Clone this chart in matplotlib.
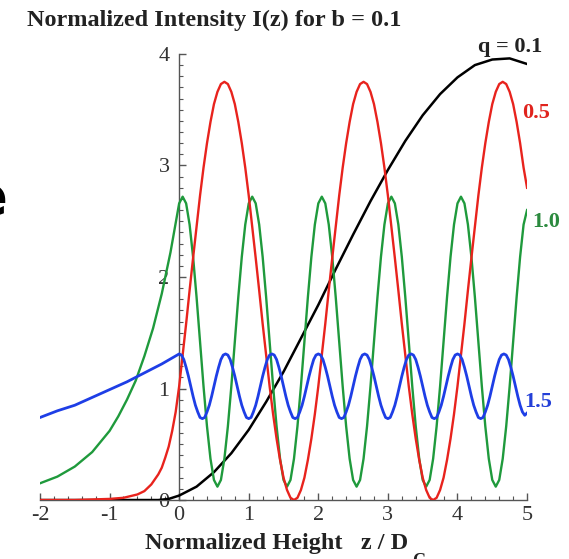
import numpy as np
import matplotlib.pyplot as plt

plt.rcParams['font.family'] = ['Liberation Serif', 'DejaVu Serif']
plt.rcParams['axes.unicode_minus'] = False

# --- values ---
# q = 0.1 (black)
black_z = [-2.0, -1.0, -0.6, -0.3, -0.15, 0.0, 0.25, 0.5, 0.75, 1.0, 1.25, 1.5, 1.75,
           2.0, 2.25, 2.5, 2.75, 3.0, 3.25, 3.5, 3.75, 4.0, 4.25, 4.5, 4.75, 5.0]
black_I = [0.0, 0.0, 0.0, 0.0, 0.01, 0.04, 0.12, 0.25, 0.42, 0.63, 0.88, 1.15, 1.45,
           1.75, 2.07, 2.38, 2.68, 2.96, 3.22, 3.45, 3.64, 3.79, 3.90, 3.95, 3.96, 3.91]

# q = 0.5 (red): z < 0 part, then z = 0..5 every 0.05
red_neg_z = [-2.0, -1.5, -1.0, -0.8, -0.6, -0.5, -0.4, -0.3, -0.25, -0.2, -0.15, -0.1, -0.05]
red_neg_I = [0.0, 0.0, 0.01, 0.02, 0.05, 0.08, 0.14, 0.23, 0.29, 0.38, 0.48, 0.62, 0.79]
red_pos_I = [1.02, 1.30, 1.58, 1.88, 2.17, 2.45, 2.73, 2.98, 3.20, 3.39,
             3.55, 3.66, 3.73, 3.75, 3.73, 3.66, 3.55, 3.39, 3.20, 2.98,
             2.73, 2.45, 2.17, 1.88, 1.58, 1.30, 1.02, 0.77, 0.55, 0.36,
             0.20, 0.09, 0.02, 0.00, 0.02, 0.09, 0.20, 0.36, 0.55, 0.77,
             1.02, 1.30, 1.58, 1.88, 2.17, 2.45, 2.73, 2.98, 3.20, 3.39,
             3.55, 3.66, 3.73, 3.75, 3.73, 3.66, 3.55, 3.39, 3.20, 2.98,
             2.73, 2.45, 2.17, 1.88, 1.58, 1.30, 1.02, 0.77, 0.55, 0.36,
             0.20, 0.09, 0.02, 0.00, 0.02, 0.09, 0.20, 0.36, 0.55, 0.77,
             1.02, 1.30, 1.58, 1.88, 2.17, 2.45, 2.73, 2.98, 3.20, 3.39,
             3.55, 3.66, 3.73, 3.75, 3.73, 3.66, 3.55, 3.39, 3.20, 2.98,
             2.80]

# q = 1.0 (green): z < 0 part, then z = 0..5 every 0.05
green_neg_z = [-2.0, -1.75, -1.5, -1.25, -1.0, -0.875, -0.75, -0.625, -0.5, -0.375, -0.25, -0.125]
green_neg_I = [0.15, 0.21, 0.30, 0.43, 0.62, 0.75, 0.90, 1.07, 1.29, 1.54, 1.85, 2.22]
green_pos_I = [2.66, 2.72, 2.66, 2.47, 2.18, 1.82, 1.42, 1.02, 0.66, 0.37,
               0.18, 0.12, 0.18, 0.37, 0.66, 1.02, 1.42, 1.82, 2.18, 2.47,
               2.66, 2.72, 2.66, 2.47, 2.18, 1.82, 1.42, 1.02, 0.66, 0.37,
               0.18, 0.12, 0.18, 0.37, 0.66, 1.02, 1.42, 1.82, 2.18, 2.47,
               2.66, 2.72, 2.66, 2.47, 2.18, 1.82, 1.42, 1.02, 0.66, 0.37,
               0.18, 0.12, 0.18, 0.37, 0.66, 1.02, 1.42, 1.82, 2.18, 2.47,
               2.66, 2.72, 2.66, 2.47, 2.18, 1.82, 1.42, 1.02, 0.66, 0.37,
               0.18, 0.12, 0.18, 0.37, 0.66, 1.02, 1.42, 1.82, 2.18, 2.47,
               2.66, 2.72, 2.66, 2.47, 2.18, 1.82, 1.42, 1.02, 0.66, 0.37,
               0.18, 0.12, 0.18, 0.37, 0.66, 1.02, 1.42, 1.82, 2.18, 2.47,
               2.60]

# q = 1.5 (blue): z < 0 part, then z = 0..5 every 1/30
blue_neg_z = [-2.0, -1.75, -1.5, -1.25, -1.0, -0.75, -0.5, -0.25]
blue_neg_I = [0.74, 0.80, 0.85, 0.92, 0.99, 1.06, 1.14, 1.22]
blue_pos_I = [1.31, 1.30, 1.26, 1.19, 1.11, 1.02, 0.93, 0.85, 0.79, 0.74,
              0.73, 0.74, 0.79, 0.85, 0.93, 1.02, 1.11, 1.19, 1.26, 1.30,
              1.31, 1.30, 1.26, 1.19, 1.11, 1.02, 0.93, 0.85, 0.79, 0.74,
              0.73, 0.74, 0.79, 0.85, 0.93, 1.02, 1.11, 1.19, 1.26, 1.30,
              1.31, 1.30, 1.26, 1.19, 1.11, 1.02, 0.93, 0.85, 0.79, 0.74,
              0.73, 0.74, 0.79, 0.85, 0.93, 1.02, 1.11, 1.19, 1.26, 1.30,
              1.31, 1.30, 1.26, 1.19, 1.11, 1.02, 0.93, 0.85, 0.79, 0.74,
              0.73, 0.74, 0.79, 0.85, 0.93, 1.02, 1.11, 1.19, 1.26, 1.30,
              1.31, 1.30, 1.26, 1.19, 1.11, 1.02, 0.93, 0.85, 0.79, 0.74,
              0.73, 0.74, 0.79, 0.85, 0.93, 1.02, 1.11, 1.19, 1.26, 1.30,
              1.31, 1.30, 1.26, 1.19, 1.11, 1.02, 0.93, 0.85, 0.79, 0.74,
              0.73, 0.74, 0.79, 0.85, 0.93, 1.02, 1.11, 1.19, 1.26, 1.30,
              1.31, 1.30, 1.26, 1.19, 1.11, 1.02, 0.93, 0.85, 0.79, 0.74,
              0.73, 0.74, 0.79, 0.85, 0.93, 1.02, 1.11, 1.19, 1.26, 1.30,
              1.31, 1.30, 1.26, 1.19, 1.11, 1.02, 0.93, 0.85, 0.79, 0.76,
              0.78]

curve_labels = ['q = 0.1', '0.5', '1.0', '1.5']
colors = ['black', '#e8231d', '#1f9a3c', '#1e3ee6']
text_colors = ['#222222', '#e0231d', '#2b8a3e', '#2440d8']

red_z = np.concatenate([red_neg_z, np.linspace(0, 5, len(red_pos_I))])
red_I = np.concatenate([red_neg_I, red_pos_I])
green_z = np.concatenate([green_neg_z, np.linspace(0, 5, len(green_pos_I))])
green_I = np.concatenate([green_neg_I, green_pos_I])
blue_z = np.concatenate([blue_neg_z, np.linspace(0, 5, len(blue_pos_I))])
blue_I = np.concatenate([blue_neg_I, blue_pos_I])

fig = plt.figure(figsize=(5.69, 5.59), dpi=100)
ax = fig.add_axes([0.0703, 0.1055, 0.856, 0.798])

ax.plot(black_z, black_I, color=colors[0], lw=1.8, zorder=3)
ax.plot(green_z, green_I, color=colors[2], lw=1.7, zorder=3)
ax.plot(red_z, red_I, color=colors[1], lw=1.7, zorder=3)
ax.plot(blue_z, blue_I, color=colors[3], lw=2.0, zorder=4)

ax.set_xlim(-2, 5)
ax.set_ylim(0, 4)
ax.spines['left'].set_position(('data', 0))
ax.spines['top'].set_visible(False)
ax.spines['right'].set_visible(False)
for s in ['left', 'bottom']:
    ax.spines[s].set_color('#555555')
    ax.spines[s].set_linewidth(1.0)

ax.set_xticks(range(-2, 6))
ax.set_xticks(np.arange(-2, 5.01, 0.2), minor=True)
ax.set_yticks(range(0, 5))
ax.set_yticks(np.arange(0, 4.01, 0.1), minor=True)
ax.tick_params(which='major', direction='in', length=5, width=1, color='#555555',
               labelsize=16, labelcolor='#333333')
ax.tick_params(which='minor', direction='in', length=3, width=0.8, color='#555555')
ax.tick_params(axis='x', pad=4)
ax.tick_params(axis='y', pad=7)

# curve labels at the right end
ax.text(4.76, 4.06, curve_labels[0], color=text_colors[0], fontsize=16, fontweight='bold',
        ha='center', va='center')
ax.text(4.93, 3.47, curve_labels[1], color=text_colors[1], fontsize=16, fontweight='bold',
        ha='left', va='center')
ax.text(5.08, 2.49, curve_labels[2], color=text_colors[2], fontsize=16, fontweight='bold',
        ha='left', va='center')
ax.text(4.96, 0.88, curve_labels[3], color=text_colors[3], fontsize=16, fontweight='bold',
        ha='left', va='center')

fig.text(0.047, 0.954, 'Normalized Intensity I(z) for b = 0.1', fontsize=17.5,
         fontweight='bold', ha='left', va='baseline', color='#222222')
fig.text(0.255, 0.018, 'Normalized Height   z / D', fontsize=17.5,
         fontweight='bold', ha='left', va='baseline', color='#222222')
# subscript C, dropped low and cut by the bottom edge as in the source
fig.text(0.724, 0.011, 'C', fontsize=13, fontweight='bold', ha='left', va='top',
         color='#222222')

# stray letter cut at the left edge of the source slide
fig.text(-0.05, 0.644, 'e', fontsize=38, fontweight='bold', family='DejaVu Sans',
         ha='left', va='center')

fig.savefig('out.png', dpi=100)
